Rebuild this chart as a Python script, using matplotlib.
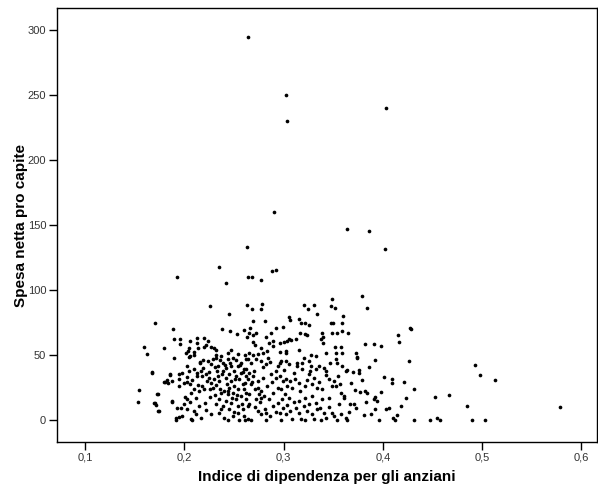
#!/usr/bin/env python3
# scatter: spesa netta pro capite vs indice di dipendenza anziani
# values

import matplotlib
matplotlib.use("Agg")
import matplotlib.pyplot as plt

plt.rcParams["font.family"] = ["Liberation Sans", "DejaVu Sans"]

# outliers + upper band
indice = [
    0.264, 0.303, 0.304, 0.403, 0.290, 0.364, 0.386, 0.263, 0.402,
    0.235, 0.193, 0.242, 0.264, 0.268, 0.277, 0.288, 0.292,
    0.226, 0.263, 0.245, 0.268, 0.278, 0.277, 0.321, 0.325, 0.331, 0.334,
    0.349, 0.348, 0.352, 0.360, 0.379, 0.384,
    0.171, 0.269, 0.281, 0.306, 0.307, 0.316, 0.318, 0.322, 0.326, 0.348,
    0.350, 0.359, 0.427, 0.428, 0.266, 0.292, 0.299,
    # 50-70, left half
    0.189, 0.238, 0.246, 0.253, 0.260, 0.263, 0.190, 0.196, 0.196, 0.206,
    0.213, 0.213, 0.2195, 0.224, 0.222, 0.220, 0.227, 0.2295, 0.232, 0.180,
    0.205, 0.202, 0.204, 0.210, 0.2095, 0.214, 0.206, 0.237, 0.244, 0.247,
    0.254, 0.261, 0.2315,
    # far left
    0.159, 0.162, 0.154, 0.153, 0.168, 0.1735, 0.170, 0.172, 0.174, 0.181,
    0.184, 0.186, 0.188, 0.192, 0.195,
    # 50-70, middle
    0.265, 0.269, 0.272, 0.287, 0.282, 0.289, 0.296, 0.300, 0.304, 0.306,
    0.308, 0.313, 0.317, 0.322, 0.324, 0.339, 0.340, 0.338, 0.349, 0.354,
    0.359, 0.269, 0.271, 0.277, 0.285, 0.289, 0.283, 0.296, 0.302, 0.303,
    0.316, 0.328, 0.333, 0.340, 0.343, 0.352, 0.358, 0.353, 0.359, 0.265,
    0.269, 0.274, 0.279,
    # 50-70, right
    0.365, 0.415, 0.416, 0.382, 0.391, 0.398, 0.373, 0.374,
    # dense block, left
    0.190, 0.205, 0.2155, 0.219, 0.224, 0.229, 0.232, 0.236, 0.239, 0.244,
    0.249, 0.252, 0.257, 0.262, 0.227, 0.234, 0.241, 0.254,
    0.168, 0.186, 0.183, 0.180, 0.188, 0.195, 0.195, 0.195, 0.200, 0.203,
    0.206, 0.203, 0.205, 0.210, 0.213, 0.217, 0.213,
    0.218, 0.222, 0.225, 0.223, 0.227, 0.230, 0.234, 0.235, 0.232, 0.229,
    0.218, 0.220, 0.215, 0.210, 0.207, 0.212, 0.203, 0.200,
    0.239, 0.242, 0.247, 0.250, 0.245, 0.242, 0.247, 0.252, 0.257, 0.260,
    0.262, 0.255, 0.259, 0.250, 0.245, 0.240, 0.237, 0.244, 0.249, 0.254,
    0.260, 0.257, 0.262, 0.252, 0.247, 0.242, 0.235, 0.232, 0.239, 0.245,
    0.254, 0.259, 0.264,
    0.173, 0.171, 0.175, 0.188, 0.193, 0.197, 0.203, 0.210, 0.192, 0.198,
    0.207, 0.217, 0.227, 0.235, 0.240, 0.249, 0.254, 0.260, 0.244, 0.255,
    0.264,
    0.208, 0.212, 0.222, 0.237, 0.250, 0.261, 0.201, 0.206, 0.215, 0.221,
    0.226, 0.231, 0.236, 0.243, 0.248, 0.253, 0.258, 0.262, 0.208, 0.214,
    0.219, 0.225, 0.231, 0.238, 0.246, 0.251, 0.256, 0.261, 0.226, 0.244,
    0.198, 0.203, 0.216, 0.233, 0.259,
    # dense block, middle
    0.264, 0.267, 0.272, 0.277, 0.282, 0.284, 0.294, 0.296, 0.302, 0.306,
    0.314, 0.319, 0.321, 0.326, 0.328, 0.333, 0.336, 0.341, 0.343, 0.353,
    0.354, 0.359, 0.363,
    0.262, 0.265, 0.270, 0.269, 0.264, 0.274, 0.279, 0.267, 0.274, 0.277,
    0.275, 0.277, 0.280, 0.272, 0.265, 0.287, 0.292, 0.296, 0.299, 0.302,
    0.307, 0.312, 0.316, 0.294, 0.297, 0.289, 0.301, 0.306, 0.309, 0.317,
    0.322, 0.326, 0.331, 0.334, 0.339, 0.346, 0.351, 0.353, 0.358, 0.361,
    0.346, 0.339, 0.329, 0.322, 0.316, 0.333,
    0.265, 0.274, 0.277, 0.282, 0.286, 0.294, 0.299, 0.296, 0.302, 0.307,
    0.309, 0.316, 0.321, 0.324, 0.329, 0.334, 0.341, 0.343, 0.351, 0.358,
    0.363, 0.267, 0.282, 0.297, 0.322, 0.354,
    0.271, 0.276, 0.281, 0.285, 0.289, 0.292, 0.298, 0.304, 0.311, 0.313,
    0.318, 0.326, 0.331, 0.337, 0.346, 0.349, 0.338, 0.356, 0.283, 0.288,
    0.292, 0.300, 0.304, 0.311, 0.314, 0.319, 0.324, 0.329, 0.336, 0.343,
    0.347, 0.349, 0.355, 0.357, 0.279, 0.286, 0.271, 0.268, 0.297, 0.327,
    # dense block, right
    0.374, 0.392, 0.426, 0.364, 0.370, 0.376, 0.376, 0.368, 0.409, 0.409,
    0.421, 0.431, 0.377, 0.382, 0.384, 0.398, 0.361, 0.392, 0.391, 0.394,
    0.383, 0.423, 0.453, 0.367, 0.371, 0.373, 0.392, 0.403, 0.406, 0.366,
    0.381, 0.410, 0.414, 0.412, 0.364, 0.396, 0.431, 0.448, 0.455, 0.458,
    0.386, 0.379, 0.401, 0.388, 0.418, 0.372,
    # tail
    0.493, 0.498, 0.513, 0.579, 0.485, 0.467, 0.490, 0.503,
]

spesa = [
    295, 250, 230, 240, 160, 147, 145.4, 133, 131.3,
    117.4, 110, 105.1, 110, 110, 107.4, 114.6, 115.1,
    87.9, 88.5, 81.5, 85.1, 89.2, 85.1, 88.5, 85.1, 88.5, 81.5,
    93.1, 87.7, 85.9, 80, 95.4, 85.9,
    74.6, 76.4, 76.4, 79.5, 76.9, 77.4, 74.4, 74.9, 73.1, 74.4,
    74.4, 74.9, 71.0, 69.7, 70.5, 70.5, 71.3,
    69.8, 69.8, 68.5, 65.9, 69.2, 64.1, 62.3, 62.3, 58.5, 61.0,
    62.8, 59.5, 63.3, 61.0, 57.7, 55.9, 56.4, 55.2, 53.8, 55.1,
    55.1, 51.8, 52.8, 52.5, 50.0, 55.1, 49.2, 49.2, 51.3, 53.8,
    50.5, 50.0, 50.0,
    55.9, 50.8, 23.1, 14.1, 36.4, 20.3, 12.8, 11.3, 7.2, 29.5,
    28.7, 34.6, 14.1, 0, 2.6,
    67.2, 65.4, 66.7, 66.7, 63.6, 61.0, 59.5, 60.3, 61.0, 62.1,
    61.5, 62.3, 66.7, 66.2, 65.4, 67.2, 64.1, 62.1, 67.2, 67.2,
    68.7, 60.3, 57.7, 55.1, 59.0, 56.9, 53.3, 52.6, 53.1, 51.8,
    53.8, 50.0, 49.2, 59.0, 51.8, 55.9, 55.9, 51.3, 51.3, 51.8,
    50.0, 50.8, 51.3,
    66.7, 65.1, 59.7, 58.2, 58.2, 56.9, 51.8, 48.2,
    47.9, 48.5, 44.1, 46.2, 45.4, 46.7, 47.9, 46.2, 44.1, 47.2,
    47.9, 46.2, 44.1, 47.2, 42.8, 41.5, 42.1, 41.5,
    36.9, 35.1, 30.7, 29.2, 29.9, 35.1, 31.3, 26.1, 28.7, 29.2,
    27.4, 41.5, 37.7, 38.9, 36.4, 37.7, 33.8,
    33.8, 35.1, 32.5, 30.0, 28.7, 31.3, 33.8, 30.0, 26.6, 24.8,
    26.1, 23.6, 22.3, 23.6, 21.0, 17.2, 15.9, 12.0,
    37.7, 40.2, 41.5, 37.7, 35.1, 32.5, 30.0, 33.8, 36.4, 39.0,
    33.8, 31.3, 27.4, 26.1, 24.8, 22.3, 21.0, 19.7, 21.0, 23.6,
    23.6, 18.4, 15.9, 15.9, 13.3, 14.6, 15.9, 12.0, 10.7, 8.2,
    10.7, 8.2, 10.7,
    19.7, 13.3, 6.9, 14.6, 9.5, 9.5, 8.2, 6.9, 1.8, 3.1,
    0.5, 1.8, 4.4, 5.6, 1.8, 3.1, 5.6, 3.1, 0, 0,
    0.5,
    0, 4.6, 7.5, 8.5, 6.0, 0, 18.0, 14.0, 10.5, 13.0,
    17.5, 19.5, 24.0, 27.5, 17.0, 19.0, 12.5, 20.5, 30.5, 27.0,
    40.0, 37.0, 41.0, 35.0, 43.5, 31.5, 42.0, 28.5, 24.0, 22.5,
    36.5, 33.0, 44.5, 37.5, 37.0,
    46.6, 44.1, 47.1, 45.4, 42.8, 47.9, 41.5, 44.1, 45.4, 42.8,
    41.5, 44.1, 47.9, 45.4, 41.5, 38.9, 41.5, 40.2, 37.7, 46.6,
    44.1, 41.5, 37.7,
    38.9, 36.4, 37.7, 33.8, 31.3, 30.0, 32.5, 27.4, 24.8, 22.3,
    19.7, 17.2, 18.4, 15.9, 19.7, 35.1, 32.5, 33.8, 30.0, 31.3,
    30.0, 31.3, 28.7, 24.8, 23.6, 21.0, 19.7, 17.2, 24.8, 22.3,
    26.1, 35.1, 32.5, 24.8, 23.6, 31.3, 30.0, 26.1, 21.0, 18.4,
    17.2, 15.9, 18.4, 17.2, 14.6, 13.3,
    12.0, 6.9, 4.3, 5.6, 3.0, 13.3, 9.5, 5.6, 4.3, 6.9,
    0.5, 5.6, 10.7, 6.9, 4.3, 8.2, 5.6, 1.8, 3.0, 4.3,
    1.8, 0, 0, 0, 0, 0,
    10.0, 13.5, 8.5, 16.0, 10.5, 6.5, 16.5, 11.5, 13.5, 9.0,
    1.0, 12.5, 0.5, 9.5, 10.0, 5.5, 0, 12.5, 26.5, 29.0,
    37.5, 38.5, 26.5, 36.0, 44.0, 39.0, 31.0, 27.5, 29.0, 34.5,
    44.0, 26.5, 34.0, 28.0, 40.5, 44.5, 24.0, 29.5, 45.5, 38.0,
    47.9, 45.9, 45.4, 38.4, 36.9, 38.2, 35.9, 28.2, 31.3, 28.7,
    29.5, 23.6, 21.5, 22.3, 21.0, 21.5, 17.2, 17.9, 16.4, 14.3,
    14.1, 17.2, 17.7, 12.5, 12.0, 8.9, 8.2, 8.2, 9.5, 6.1,
    3.8, 1.8, 3.6, 0, 0, 0, 0, 0, 1.8, 0,
    40.5, 30.5, 33.0, 4.5, 10.5, 23.0,
    42.3, 34.6, 30.8, 9.7, 10.5, 19.5, 0, 0,
]

XTICKS = [0.1, 0.2, 0.3, 0.4, 0.5, 0.6]
XTICKLABELS = ["0,1", "0,2", "0,3", "0,4", "0,5", "0,6"]
YTICKS = [0, 50, 100, 150, 200, 250, 300]

fig = plt.figure(figsize=(5.98, 4.88), dpi=100)
ax = fig.add_axes([0.0958, 0.0949, 0.9022, 0.888])

ax.scatter(indice, spesa, s=7, color="black", linewidths=0)

ax.set_xlim(0.0721, 0.6156)
ax.set_ylim(-16.7, 316.7)
ax.set_xticks(XTICKS)
ax.set_xticklabels(XTICKLABELS)
ax.set_yticks(YTICKS)
ax.tick_params(direction="out", length=6, width=1, labelsize=8,
               labelcolor="#333333", pad=2)
for sp in ax.spines.values():
    sp.set_linewidth(1)
    sp.set_color("black")

ax.set_xlabel("Indice di dipendenza per gli anziani", fontsize=11,
              fontweight="bold", labelpad=5)
ax.set_ylabel("Spesa netta pro capite", fontsize=11,
              fontweight="bold", labelpad=0)

fig.savefig("out.png", dpi=100)
